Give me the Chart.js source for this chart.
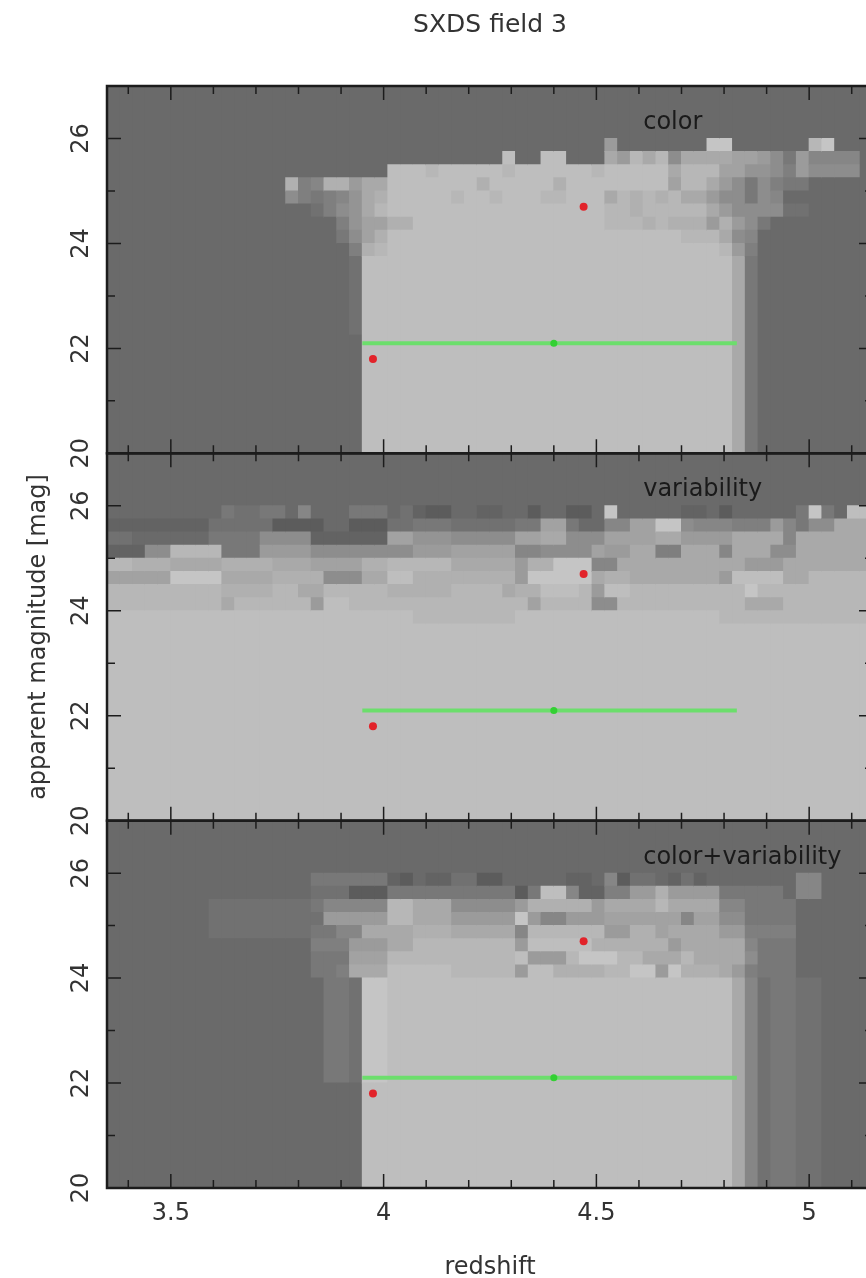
<!DOCTYPE html>
<html>
<head>
<meta charset="utf-8">
<title>SXDS field 3</title>
<script src="https://cdn.jsdelivr.net/npm/chart.js@4.4.1/dist/chart.umd.min.js"></script>
<style>
  html, body { margin: 0; padding: 0; background: #fff; overflow: hidden; }
  #wrap { width: 866px; height: 1278px; overflow: hidden; }
  canvas { display: block; }
</style>
</head>
<body>
<div id="wrap"><canvas id="magChart" width="880" height="1278"></canvas></div>
<script>
  // map grid: redshift bins of 0.03 from 3.35, magnitude rows of 0.25 down from 27
  const zStart = 3.35;
  const zStep = 0.03;
  const magTop = 27;
  const magStep = 0.25;

  const xTickValues = [3.4, 3.5, 3.6, 3.7, 3.8, 3.9, 4, 4.1, 4.2, 4.3, 4.4, 4.5, 4.6, 4.7, 4.8, 4.9, 5, 5.1];
  const xLabelTicks = [3.5, 4, 4.5, 5];
  const yTickValues = [20, 21, 22, 23, 24, 25, 26];
  const yLabelTicks = [20, 22, 24, 26];

  const panelNames = ['color', 'variability', 'color+variability'];
  const panelLabelZ = 4.61;
  const panelLabelMag = 26.3;

  // known objects (same in every panel)
  const redZ = [4.47, 3.975];
  const redMag = [24.7, 21.8];
  const greenRange = [3.95, 4.83];
  const greenZ = 4.40;
  const greenMag = 22.1;

  // grey shade codes, darkest first ("0" is the map background)
  const shadeCodes = 'xy0123456789abcdef';

  // one string per 0.25 mag row, top row first, one character per redshift bin
  const bgRow = '0000000000 0000000000 0000000000 0000000000 0000000000 0000000000';

  const colorRows = [
    bgRow, bgRow, bgRow, bgRow,
    '0000000000 0000000000 0000000000 0000000007 0000000dd0 00000bd000',
    '0000000000 0000000000 0000000000 0c00cc0009 7b9b599998 8752744440',
    '0000000000 0000000000 00cccbcccc cbccccccbc cccc9bbb88 6653755550',
    '0000000000 0000a34aa7 99ccccccca cccccacccc cccc8bb975 2532200000',
    '0000000000 0000532346 9acccccbcc bcccbbccc9 babab99755 2540000000',
    '0000000000 0000001356 9bcccccccc cccccccccb babbbbb975 5551100000',
    '0000000000 0000000036 88aacccccc cccccccccb bbabaaa7a7 5200000000',
    '0000000000 0000000025 8acccccccc cccccccccc cccccbbb95 4000000000',
    '0000000000 0000000003 abcccccccc cccccccccc ccccccccb7 3000000000',
    ...Array(6).fill('0000000000 0000000001 cccccccccc cccccccccc ccccccccc9 2000000000'),
    ...Array(9).fill('0000000000 0000000000 cccccccccc cccccccccc ccccccccc9 2000000000')
  ];

  const variabilityRows = [
    bgRow, bgRow, bgRow, bgRow,
    '0000000002 1122040002 2201yxx00y y00x00xx0d 00000yy0x0 00002d20cc',
    'yyyyyyyy11 111xxxx00x xx11222111 1122882004 488dd54443 3374255999',
    '1100000022 225555yyyy yy88666555 5588995558 8889977779 9994999999',
    'yyy55bbbb2 2277775555 5555777888 8844555587 7993399949 9955999999',
    'bbaaa9999a aaa9998888 aabbbbb999 997aaddd44 9999999999 7779999999',
    '88888dddd9 999aaaa555 99ccaaaaaa aa7ddddd9a a99999997c ccc99bbbbb',
    'bbbbbbbbba aaabb99bbb bbaaaaabbb b9aacccb7c cbbbbbbbbb dbbbbbbbbb',
    'bbbbbbbbb9 bbbbbb7ccb bbbbbbbbbb bbb8bbbb55 bbbbbbbbbb 999bbbbbbb',
    'cccccccccc cccccccccc ccccbbbbbb bbcccccccc ccccccccbb bbbbbbbbbb',
    ...Array(15).fill('cccccccccc cccccccccc cccccccccc cccccccccc cccccccccc cccccccccc')
  ];

  const bothRows = [
    bgRow, bgRow, bgRow, bgRow,
    '0000000000 0000002222 22yx0yy11x x00000yy04 x110y1y000 0000440000',
    '0000000000 000000111x xx22222222 22x2cc4yy3 377a777722 2220440000',
    '0000000011 1111112444 44bb999555 557aaaaa79 999b999944 2222000000',
    '0000000011 1111111777 77bb999777 77d7447778 8888848855 2222000000',
    '0000000011 1111112244 9999aaa999 994bbbbbb7 7aa8999977 3333000000',
    '0000000000 0000003337 7799bbbbbb bb7cccccaa aaaa799999 4222000000',
    '0000000000 0000002228 88bbbbbbbb bbc777bddd bb999b9999 5222000000',
    '0000000000 0000002239 99cccccbbb bb7ccaaaab bdd7daaa97 3222000000',
    ...Array(8).fill('0000000000 0000000221 ddcccccccc cccccccccc ccccccccc9 4122110000'),
    ...Array(8).fill('0000000000 0000000000 cccccccccc cccccccccc ccccccccc9 4122110000')
  ];

  const panelAxes = ['y1', 'y2', 'y3'];
  const panelRows = [colorRows, variabilityRows, bothRows];

  function shadeColor(ch) {
    const g = 92 + 7 * shadeCodes.indexOf(ch);
    return `rgb(${g},${g},${g})`;
  }

  // turn the row strings into floating bars, merging equal cells in a column
  function buildCells(rows) {
    const grid = rows.map(r => r.replace(/ /g, ''));
    const points = [];
    const colors = [];
    for (let k = 0; k < grid[0].length; k++) {
      const zc = zStart + zStep * (k + 0.5);
      let i = 0;
      while (i < grid.length) {
        const ch = grid[i][k];
        let j = i;
        while (j + 1 < grid.length && grid[j + 1][k] === ch) j++;
        points.push({ x: zc, y: [magTop - magStep * (j + 1), magTop - magStep * i] });
        colors.push(shadeColor(ch));
        i = j + 1;
      }
    }
    return { points, colors };
  }

  const datasets = [];
  panelAxes.forEach((id, i) => {
    datasets.push({
      type: 'scatter', yAxisID: id, order: 0,
      data: redZ.map((z, j) => ({ x: z, y: redMag[j] })),
      pointRadius: 4, pointBackgroundColor: '#e2232a', pointBorderWidth: 0
    });
    datasets.push({
      type: 'scatter', yAxisID: id, order: 1,
      data: [{ x: greenZ, y: greenMag }],
      pointRadius: 3.5, pointBackgroundColor: '#33d033', pointBorderWidth: 0
    });
    datasets.push({
      type: 'line', yAxisID: id, order: 2,
      data: greenRange.map(z => ({ x: z, y: greenMag })),
      borderColor: '#6cde6c', borderWidth: 4, pointRadius: 0
    });
    const cells = buildCells(panelRows[i]);
    datasets.push({
      type: 'bar', yAxisID: id, order: 3,
      data: cells.points,
      backgroundColor: cells.colors,
      borderWidth: 0,
      barPercentage: 1,
      categoryPercentage: 1,
      inflateAmount: 0.5,
      grouped: false
    });
  });

  const textColor = '#333';
  const fontFamily = '"DejaVu Sans", sans-serif';
  Chart.defaults.font.family = fontFamily;

  function panelScale(weight, showTitle) {
    return {
      type: 'linear',
      position: 'left',
      stack: 'mag',
      stackWeight: 1,
      weight: weight,
      min: 20,
      max: 27,
      grid: { display: false, drawTicks: false },
      border: { display: false },
      afterBuildTicks: s => { s.ticks = yTickValues.map(v => ({ value: v })); },
      afterFit: s => { s.width = 107; },
      ticks: {
        minRotation: 90,
        maxRotation: 90,
        crossAlign: 'center',
        padding: 10,
        color: textColor,
        font: { size: 24 },
        callback: v => yLabelTicks.includes(v) ? String(v) : ''
      },
      title: {
        display: showTitle,
        text: 'apparent magnitude [mag]',
        color: textColor,
        font: { size: 24, lineHeight: 0.9 },
        padding: { top: 28, bottom: 0 }
      }
    };
  }

  // frames with inward ticks, panel names and the page title
  const panelFrames = {
    id: 'panelFrames',
    beforeDatasetsDraw(chart) {
      // map background behind the cells, so no light seams show between bins
      const { ctx, chartArea } = chart;
      ctx.save();
      ctx.fillStyle = shadeColor('0');
      ctx.fillRect(chartArea.left, chartArea.top, chartArea.right - chartArea.left, chartArea.bottom - chartArea.top);
      ctx.restore();
    },
    afterDatasetsDraw(chart) {
      const { ctx, scales } = chart;
      const xs = scales.x;
      ctx.save();
      ctx.strokeStyle = '#1c1c1c';
      panelAxes.forEach((id, i) => {
        const ys = scales[id];
        ctx.lineWidth = 1.5;
        ctx.beginPath();
        xTickValues.forEach(v => {
          const px = xs.getPixelForValue(v);
          const len = xLabelTicks.includes(v) ? 14 : 8;
          ctx.moveTo(px, ys.top);
          ctx.lineTo(px, ys.top + len);
          ctx.moveTo(px, ys.bottom);
          ctx.lineTo(px, ys.bottom - len);
        });
        yTickValues.forEach(v => {
          const py = ys.getPixelForValue(v);
          const len = yLabelTicks.includes(v) ? 14 : 8;
          ctx.moveTo(xs.left, py);
          ctx.lineTo(xs.left + len, py);
          ctx.moveTo(xs.right, py);
          ctx.lineTo(xs.right - len, py);
        });
        ctx.stroke();
        ctx.lineWidth = 2.5;
        ctx.strokeRect(xs.left, ys.top, xs.right - xs.left, ys.bottom - ys.top);

        ctx.fillStyle = '#1a1a1a';
        ctx.font = '24px ' + fontFamily;
        ctx.textAlign = 'left';
        ctx.textBaseline = 'middle';
        ctx.fillText(panelNames[i], xs.getPixelForValue(panelLabelZ), ys.getPixelForValue(panelLabelMag));
      });
      ctx.restore();
    },
    afterDraw(chart) {
      const { ctx, chartArea } = chart;
      ctx.save();
      ctx.fillStyle = textColor;
      ctx.font = '25px ' + fontFamily;
      ctx.textAlign = 'center';
      ctx.textBaseline = 'middle';
      ctx.fillText('SXDS field 3', (chartArea.left + chartArea.right) / 2, 25);
      ctx.restore();
    }
  };

  new Chart(document.getElementById('magChart'), {
    type: 'bar',
    data: { datasets: datasets },
    options: {
      responsive: false,
      animation: false,
      devicePixelRatio: 1,
      layout: { padding: { top: 86, right: 7, bottom: 0, left: 0 } },
      plugins: {
        legend: { display: false },
        tooltip: { enabled: false },
        title: { display: false }
      },
      scales: {
        x: {
          type: 'linear',
          position: 'bottom',
          min: 3.35,
          max: 5.15,
          offset: false,
          grid: { display: false, drawTicks: false },
          border: { display: false },
          afterBuildTicks: s => { s.ticks = xTickValues.map(v => ({ value: v })); },
          afterFit: s => { s.height = 90; },
          ticks: {
            autoSkip: false,
            minRotation: 0,
            maxRotation: 0,
            padding: 11,
            color: textColor,
            font: { size: 24 },
            callback: v => xLabelTicks.includes(v) ? String(v) : ''
          },
          title: {
            display: true,
            text: 'redshift',
            color: textColor,
            font: { size: 24, lineHeight: 0.9 },
            padding: { top: 0, bottom: -1 }
          }
        },
        y1: panelScale(3, false),
        y2: panelScale(2, true),
        y3: panelScale(1, false)
      }
    },
    plugins: [panelFrames]
  });
</script>
</body>
</html>
